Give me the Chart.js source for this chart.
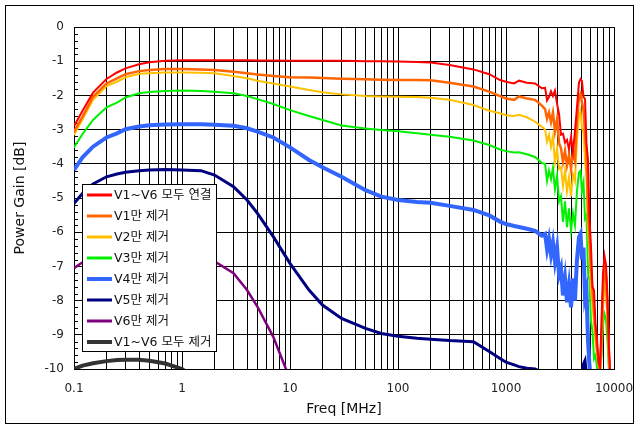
<!DOCTYPE html>
<html lang="ko">

<head>
    <meta charset="UTF-8">
    <title>Power Gain</title>
    <script src="https://cdn.jsdelivr.net/npm/chart.js"></script>
    <style>
        body { margin: 0; background: #fff; }
    </style>
</head>

<body>
    <canvas id="gainChart" width="640" height="429"></canvas>

    <script>
        // frequency points [MHz], shared by all series
        const freq = [
            0.1, 0.12, 0.15, 0.2, 0.25, 0.3, 0.4, 0.5, 0.7, 1,
            1.5, 2, 3, 4, 5, 7, 10, 15, 20, 30,
            50, 70, 100, 150, 200, 300, 500, 700, 880, 1000,
            1190, 1320, 1560, 1860, 2150, 2300, 2400, 2500, 2610, 2720,
            2840, 2970, 3100, 3230, 3370, 3520, 3670, 3830, 4000, 4170,
            4350, 4540, 4740, 4900, 5050, 5220, 5390, 5560, 5750, 5930,
            6120, 6320, 6530, 6740, 6960, 7190, 7420, 7660, 7910, 8170,
            8430, 8710, 8990, 9280, 9580, 9900
        ];

        const seriesLabels = ['V1~V6 모두 연결', 'V1만 제거', 'V2만 제거', 'V3만 제거', 'V4만 제거', 'V5만 제거', 'V6만 제거', 'V1~V6 모두 제거'];

        // gain values [dB]
        const allConnected = [
            -2.90, -2.45, -1.92, -1.52, -1.33, -1.21, -1.09, -1.03, -0.99, -0.97,
            -0.97, -0.97, -0.97, -0.97, -0.98, -0.98, -0.99, -0.99, -0.99, -0.99,
            -1.00, -1.00, -1.01, -1.02, -1.04, -1.11, -1.24, -1.38, -1.55, -1.60,
            -1.65, -1.57, -1.63, -1.65, -1.79, -1.78, -2.15, -2.05, -1.88, -2.02,
            -1.86, -2.25, -2.55, -3.15, -3.12, -3.38, -3.30, -3.58, -3.22, -3.65,
            -3.05, -2.35, -1.62, -1.52, -1.58, -2.05, -2.10, -3.40, -3.90, -5.60,
            -6.40, -7.60, -7.70, -8.70, -9.10, -9.80, -9.95, -8.60, -7.20, -6.70,
            -6.95, -7.90, -9.40, -10.3, -10.8, -11.0
        ];
        const v1Removed = [
            -3.06, -2.62, -2.04, -1.65, -1.50, -1.38, -1.29, -1.26, -1.23, -1.23,
            -1.24, -1.26, -1.31, -1.35, -1.39, -1.43, -1.47, -1.48, -1.49, -1.51,
            -1.53, -1.54, -1.55, -1.55, -1.56, -1.63, -1.74, -1.89, -2.02, -2.09,
            -2.13, -2.03, -2.09, -2.13, -2.30, -2.40, -2.68, -2.50, -2.78, -2.50,
            -3.05, -2.70, -3.40, -3.55, -3.95, -3.62, -4.05, -3.75, -4.15, -3.65,
            -3.90, -2.75, -2.05, -1.95, -2.20, -2.45, -3.10, -3.70, -5.40, -6.10,
            -7.10, -7.70, -8.30, -8.90, -9.40, -9.80, -10.0, -9.20, -7.70, -7.10,
            -7.25, -8.30, -9.60, -10.3, -10.8, -11.0
        ];
        const v2Removed = [
            -3.16, -2.70, -2.13, -1.73, -1.60, -1.47, -1.37, -1.35, -1.33, -1.33,
            -1.34, -1.35, -1.43, -1.50, -1.57, -1.65, -1.74, -1.84, -1.91, -1.97,
            -2.02, -2.03, -2.04, -2.05, -2.07, -2.13, -2.28, -2.45, -2.52, -2.58,
            -2.60, -2.57, -2.64, -2.77, -2.92, -3.00, -3.35, -3.15, -3.50, -3.20,
            -3.95, -3.55, -4.15, -4.10, -4.65, -4.20, -4.80, -4.40, -4.95, -4.30,
            -4.50, -3.30, -2.60, -2.45, -2.95, -3.10, -3.90, -4.40, -6.00, -6.60,
            -7.70, -8.10, -8.70, -9.20, -9.60, -9.90, -10.2, -9.50, -8.20, -7.60,
            -7.75, -8.60, -9.80, -10.4, -10.8, -11.0
        ];
        const v3Removed = [
            -3.52, -3.13, -2.72, -2.35, -2.21, -2.06, -1.94, -1.90, -1.87, -1.86,
            -1.87, -1.89, -1.94, -2.02, -2.11, -2.25, -2.43, -2.60, -2.72, -2.88,
            -2.97, -3.01, -3.05, -3.11, -3.15, -3.21, -3.32, -3.45, -3.58, -3.63,
            -3.67, -3.66, -3.72, -3.80, -3.98, -4.00, -4.50, -4.20, -4.45, -4.12,
            -4.75, -4.35, -5.10, -4.95, -5.70, -5.10, -5.85, -5.30, -5.95, -5.45,
            -5.80, -4.80, -4.25, -4.20, -4.80, -4.55, -5.60, -5.50, -7.20, -7.40,
            -8.60, -8.90, -9.70, -9.60, -9.95, -9.70, -10.1, -9.60, -8.70, -8.40,
            -8.55, -9.20, -10.1, -10.6, -11.0, -11.0
        ];
        const v4Removed = [
            -4.18, -3.81, -3.50, -3.23, -3.11, -2.99, -2.91, -2.87, -2.85, -2.84,
            -2.84, -2.86, -2.89, -2.96, -3.06, -3.23, -3.52, -3.89, -4.10, -4.38,
            -4.77, -4.96, -5.06, -5.12, -5.14, -5.23, -5.35, -5.51, -5.69, -5.76,
            -5.82, -5.85, -5.90, -5.96, -6.10, -6.05, -6.50, -6.20, -6.65, -6.30,
            -6.85, -6.45, -7.25, -7.05, -7.85, -7.35, -8.05, -7.55, -8.20, -7.35,
            -8.00, -6.80, -6.15, -6.05, -6.80, -6.45, -7.90, -7.70, -9.20, -9.90,
            -10.3, -11.0
        ];
        const v5Removed = [
            -5.16, -4.86, -4.59, -4.38, -4.30, -4.25, -4.20, -4.18, -4.17, -4.18,
            -4.20, -4.33, -4.67, -5.06, -5.45, -6.13, -6.91, -7.69, -8.13, -8.52,
            -8.81, -8.96, -9.04, -9.10, -9.13, -9.17, -9.20, -9.49, -9.69, -9.80,
            -9.88, -9.93, -9.98, -10.0, -10.1, -10.2, -10.3, -10.4, -10.5, -10.5,
            -10.5, -10.5, -10.5, -10.5, -10.5, -10.5, -10.5, -10.5, -10.5, -10.5,
            -10.5, -10.5, -10.5, -10.5, -10.4, -9.85, -9.75, -10.2, -10.6
        ];
        const v6Removed = [
            -7.05, -6.88, -6.78, -6.70, -6.65, -6.62, -6.58, -6.57, -6.58, -6.62,
            -6.72, -6.85, -7.20, -7.69, -8.18, -9.06, -10.3, -11.2
        ];
        const allRemoved = [
            -10.0, -9.90, -9.83, -9.77, -9.74, -9.73, -9.73, -9.76, -9.84, -10.0,
            -10.4
        ];

        // axis ticks
        const xDecades = [0.1, 1, 10, 100, 1000, 10000];
        const xDecadeLabels = ['0.1', '1', '10', '100', '1000', '10000'];
        const yMin = -10, yMax = 0;

        const seriesValues = [allConnected, v1Removed, v2Removed, v3Removed, v4Removed, v5Removed, v6Removed, allRemoved];
        const seriesColors = ['#ff0000', '#ff6600', '#ffc000', '#00f000', '#3366ff', '#000080', '#800080', '#333333'];
        const seriesWidths = [2, 2.5, 2, 2, 4, 3, 2.5, 4];

        // log grid: 1..9 of every decade
        const xGridTicks = [];
        for (let d = 0; d < xDecades.length - 1; d++) {
            xGridTicks.push(xDecades[d]);
            for (let k = 2; k <= 9; k++) xGridTicks.push(xDecades[d] * k);
        }
        xGridTicks.push(xDecades[xDecades.length - 1]);

        const textFont = '"DejaVu Sans", "Noto Sans CJK KR", sans-serif';

        // frame, minor y ticks and the boxed legend
        const extras = {
            id: 'extras',
            beforeDatasetsDraw(chart) {
                const ctx = chart.ctx, y = chart.scales.y, left = chart.chartArea.left;
                ctx.save();
                ctx.strokeStyle = '#000';
                ctx.lineWidth = 1;
                for (let v = yMin; v < yMax; v += 0.2) {
                    const r = Math.round(v * 10) / 10;
                    if (Math.abs(r - Math.round(r)) < 0.01) continue;
                    const py = Math.round(y.getPixelForValue(r)) + 0.5;
                    ctx.beginPath();
                    ctx.moveTo(left, py);
                    ctx.lineTo(left + 4, py);
                    ctx.stroke();
                }
                ctx.restore();
            },
            afterDraw(chart) {
                const ctx = chart.ctx;
                ctx.save();
                ctx.strokeStyle = '#000';
                ctx.lineWidth = 1;
                ctx.strokeRect(5.5, 5.5, 628, 418);

                ctx.fillStyle = '#fff';
                ctx.fillRect(82, 184, 134, 167);
                ctx.strokeRect(82.5, 184.5, 134, 167);
                ctx.font = '12.5px ' + textFont;
                ctx.textBaseline = 'middle';
                chart.data.datasets.forEach((ds, i) => {
                    const ly = 195 + i * 21;
                    ctx.strokeStyle = ds.borderColor;
                    ctx.lineWidth = Math.max(ds.borderWidth, 3);
                    ctx.beginPath();
                    ctx.moveTo(87, ly);
                    ctx.lineTo(112, ly);
                    ctx.stroke();
                    ctx.fillStyle = '#111';
                    ctx.fillText(ds.label, 114, ly + 1);
                });
                ctx.restore();
            }
        };

        new Chart(document.getElementById('gainChart'), {
            type: 'line',
            data: {
                datasets: seriesLabels.map((label, s) => ({
                    label: label,
                    data: seriesValues[s].map((v, i) => ({ x: freq[i], y: v })),
                    borderColor: seriesColors[s],
                    backgroundColor: seriesColors[s],
                    borderWidth: seriesWidths[s],
                    pointRadius: 0,
                    tension: 0,
                    clip: 0
                }))
            },
            options: {
                responsive: false,
                animation: false,
                layout: { padding: { top: 27, right: 26, left: 0, bottom: 0 } },
                plugins: { legend: { display: false }, tooltip: { enabled: false } },
                scales: {
                    x: {
                        type: 'logarithmic',
                        min: 0.1,
                        max: 10000,
                        afterBuildTicks: (scale) => { scale.ticks = xGridTicks.map(v => ({ value: v })); },
                        afterFit: (scale) => {
                            scale.height = 60;
                            scale.paddingLeft = 0;
                            scale.paddingRight = 0;
                        },
                        ticks: {
                            autoSkip: false,
                            maxRotation: 0,
                            padding: 13,
                            color: '#222',
                            font: { family: textFont, size: 12 },
                            callback: (v) => {
                                const i = xDecades.indexOf(v);
                                return i >= 0 ? xDecadeLabels[i] : '';
                            }
                        },
                        grid: { color: '#000', lineWidth: 1, drawTicks: false },
                        border: { color: '#000' },
                        title: {
                            display: true,
                            text: 'Freq [MHz]',
                            color: '#111',
                            font: { family: textFont, size: 14 },
                            padding: { top: 0, bottom: 11 }
                        }
                    },
                    y: {
                        min: yMin,
                        max: yMax,
                        afterFit: (scale) => {
                            scale.width = 74;
                            scale.paddingTop = 0;
                            scale.paddingBottom = 0;
                        },
                        ticks: {
                            stepSize: 1,
                            padding: 10,
                            color: '#222',
                            font: { family: textFont, size: 12 }
                        },
                        grid: { color: '#000', lineWidth: 1, drawTicks: false },
                        border: { color: '#000' },
                        title: {
                            display: true,
                            text: 'Power Gain [dB]',
                            color: '#111',
                            font: { family: textFont, size: 14 },
                            padding: { top: 12, bottom: 0 }
                        }
                    }
                }
            },
            plugins: [extras]
        });
    </script>
</body>

</html>
